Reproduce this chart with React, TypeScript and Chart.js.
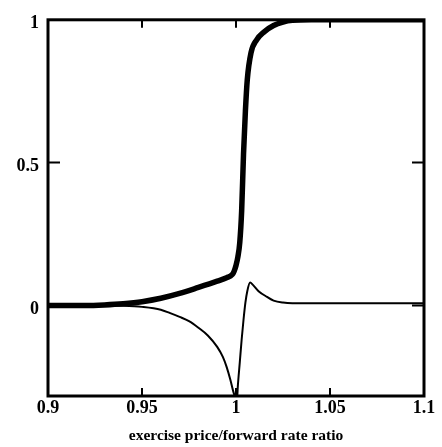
import React, { useEffect, useRef } from 'react';
import { Chart, registerables } from 'chart.js';

Chart.register(...registerables);

// Tick values / labels
const xTickValues = [0.9, 0.95, 1, 1.05, 1.1];
const yTickValues = [0, 0.5, 1];
const xInnerTicks = [0.95, 1, 1.05];
const yInnerTicks = [0, 0.5];
const xTitle = 'exercise price/forward rate ratio';

// Thick curve
const thickX = [0.9, 0.92, 0.93, 0.94, 0.95, 0.96, 0.97, 0.98, 0.99, 0.995, 0.998, 0.999, 1.0, 1.001, 1.002, 1.003, 1.004, 1.005, 1.006, 1.008, 1.011, 1.015, 1.02, 1.025, 1.03, 1.04, 1.1];
const thickY = [0, 0, 0.002, 0.006, 0.013, 0.025, 0.042, 0.063, 0.085, 0.097, 0.108, 0.12, 0.14, 0.17, 0.22, 0.33, 0.53, 0.68, 0.79, 0.885, 0.93, 0.958, 0.98, 0.992, 0.998, 1, 1];

// Thin curve
const thinX = [0.9, 0.93, 0.94, 0.95, 0.96, 0.965, 0.97, 0.975, 0.98, 0.985, 0.99, 0.993, 0.995, 0.997, 0.9985, 0.9995, 1.0005, 1.001, 1.002, 1.003, 1.004, 1.005, 1.006, 1.0075, 1.009, 1.012, 1.0165, 1.02, 1.025, 1.03, 1.1];
const thinY = [0, 0, -0.001, -0.005, -0.015, -0.027, -0.04, -0.055, -0.078, -0.105, -0.145, -0.18, -0.215, -0.26, -0.3, -0.32, -0.33, -0.28, -0.2, -0.12, -0.05, 0.01, 0.05, 0.08, 0.072, 0.05, 0.03, 0.017, 0.01, 0.008, 0.008];

const yMin = -0.317;
const yMax = 1;

const FONT = '"Liberation Serif", "Times New Roman", serif';

const framePlugin = {
  id: 'frame',
  afterDatasetsDraw(chart: any) {
    const { ctx, chartArea: a, scales } = chart;
    ctx.save();
    ctx.strokeStyle = '#000';
    ctx.lineWidth = 3;
    ctx.strokeRect(a.left, a.top, a.right - a.left, a.bottom - a.top);
    ctx.lineWidth = 2;
    ctx.beginPath();
    for (const v of xInnerTicks) {
      const px = scales.x.getPixelForValue(v);
      ctx.moveTo(px, a.bottom);
      ctx.lineTo(px, a.bottom - 8);
      ctx.moveTo(px, a.top);
      ctx.lineTo(px, a.top + 8);
    }
    for (const v of yInnerTicks) {
      const py = scales.y.getPixelForValue(v);
      ctx.moveTo(a.left, py);
      ctx.lineTo(a.left + 12, py);
      ctx.moveTo(a.right, py);
      ctx.lineTo(a.right - 12, py);
    }
    ctx.stroke();
    ctx.restore();
  },
};

export default function App() {
  const ref = useRef<HTMLCanvasElement>(null);
  useEffect(() => {
    if (!ref.current) return;
    const chart = new Chart(ref.current, {
      type: 'line',
      data: {
        datasets: [
          {
            data: thickX.map((x, i) => ({ x, y: thickY[i] })),
            borderColor: '#000',
            borderWidth: 5.5,
            pointRadius: 0,
            cubicInterpolationMode: 'monotone',
            fill: false,
          },
          {
            data: thinX.map((x, i) => ({ x, y: thinY[i] })),
            borderColor: '#000',
            borderWidth: 2,
            pointRadius: 0,
            cubicInterpolationMode: 'monotone',
            fill: false,
          },
        ],
      },
      options: {
        animation: false,
        responsive: false,
        maintainAspectRatio: false,
        layout: { padding: { top: 14, right: 18, left: 0, bottom: 0 } },
        plugins: { legend: { display: false }, tooltip: { enabled: false } },
        scales: {
          x: {
            type: 'linear',
            min: 0.9,
            max: 1.1,
            grid: { display: false, drawTicks: false },
            border: { display: false },
            afterBuildTicks: (s: any) => {
              s.ticks = xTickValues.map((v) => ({ value: v }));
            },
            afterFit: (s: any) => {
              s.height = 51;
            },
            ticks: {
              color: '#000',
              padding: 2,
              maxRotation: 0,
              autoSkip: false,
              font: { family: FONT, size: 18, weight: 'bold' },
              callback: (v: any) => String(v),
            },
            title: {
              display: true,
              text: xTitle,
              color: '#000',
              font: { family: FONT, size: 15.5, weight: 'bold' },
              padding: { top: 0, bottom: 2 },
            },
          },
          y: {
            type: 'linear',
            min: yMin,
            max: yMax,
            grid: { display: false, drawTicks: false },
            border: { display: false },
            afterBuildTicks: (s: any) => {
              s.ticks = yTickValues.map((v) => ({ value: v }));
            },
            afterFit: (s: any) => {
              s.width = 48;
            },
            ticks: {
              color: '#000',
              padding: 9,
              labelOffset: 4,
              autoSkip: false,
              font: { family: FONT, size: 18, weight: 'bold' },
              callback: (v: any) => String(v),
            },
          },
        },
      },
      plugins: [framePlugin],
    } as any);
    return () => chart.destroy();
  }, []);
  return (
    <div style={{ position: 'fixed', left: 0, top: 0, width: 442, height: 447, background: '#fff' }}>
      <canvas ref={ref} width={442} height={447} style={{ display: 'block', width: 442, height: 447 }} />
    </div>
  );
}
